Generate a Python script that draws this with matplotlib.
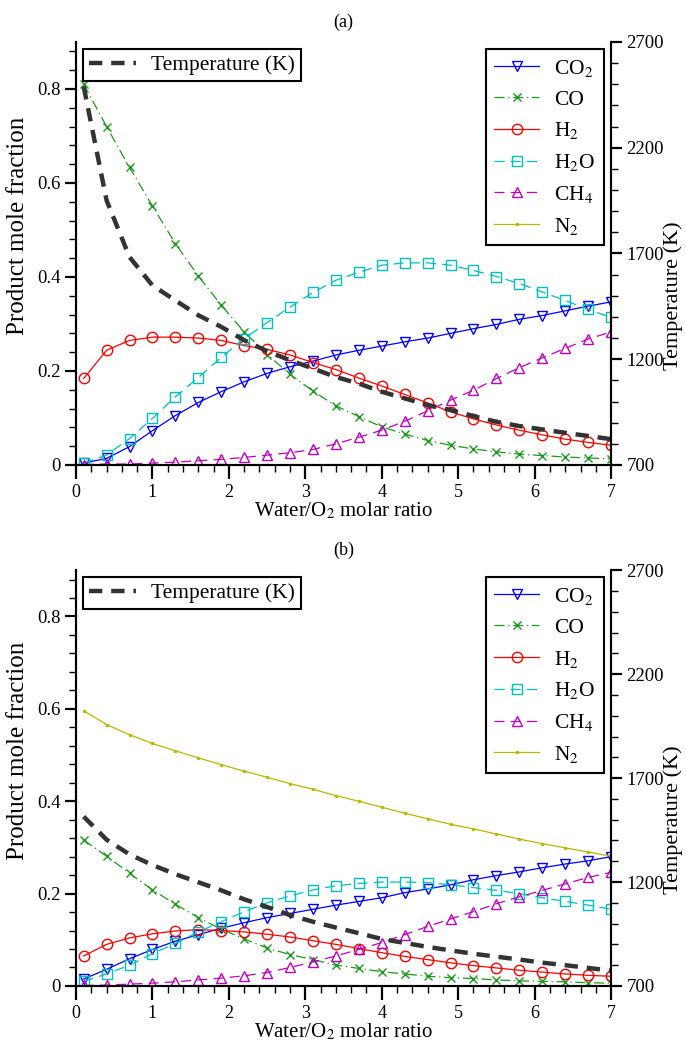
import matplotlib
matplotlib.use("Agg")
import matplotlib.pyplot as plt
from matplotlib.ticker import MultipleLocator

plt.rcParams['font.family'] = ['Liberation Serif', 'DejaVu Serif']
plt.rcParams['mathtext.fontset'] = 'stix'
plt.rcParams['font.size'] = 13

# Water/O2 molar ratio
ratio = [0.1, 0.4, 0.7, 1.0, 1.3, 1.6, 1.9, 2.2, 2.5, 2.8, 3.1, 3.4,
         3.7, 4.0, 4.3, 4.6, 4.9, 5.2, 5.5, 5.8, 6.1, 6.4, 6.7, 7.0]

# (a)
co2_a = [0.004, 0.014, 0.039, 0.073, 0.105, 0.133, 0.156, 0.177, 0.195, 0.209, 0.221, 0.234,
         0.244, 0.253, 0.262, 0.270, 0.280, 0.290, 0.299, 0.310, 0.318, 0.328, 0.338, 0.347]
co_a = [0.810, 0.720, 0.633, 0.551, 0.471, 0.402, 0.340, 0.283, 0.235, 0.193, 0.157, 0.126,
        0.103, 0.081, 0.066, 0.052, 0.042, 0.034, 0.028, 0.023, 0.020, 0.017, 0.015, 0.013]
h2_a = [0.184, 0.244, 0.265, 0.272, 0.272, 0.270, 0.265, 0.254, 0.246, 0.234, 0.218, 0.203,
        0.185, 0.168, 0.150, 0.132, 0.113, 0.098, 0.085, 0.074, 0.064, 0.055, 0.048, 0.042]
h2o_a = [0.004, 0.021, 0.056, 0.099, 0.145, 0.186, 0.229, 0.269, 0.303, 0.336, 0.367, 0.393,
         0.410, 0.425, 0.430, 0.430, 0.425, 0.414, 0.401, 0.386, 0.368, 0.350, 0.331, 0.314]
ch4_a = [0.001, 0.002, 0.002, 0.004, 0.006, 0.009, 0.012, 0.016, 0.021, 0.026, 0.033, 0.045,
         0.059, 0.074, 0.093, 0.115, 0.138, 0.159, 0.184, 0.207, 0.228, 0.248, 0.268, 0.283]
n2_a = [0.001] * 24
temp_a = [2490, 1951, 1683, 1549, 1478, 1408, 1353, 1290, 1238, 1195, 1156, 1116,
          1085, 1046, 1015, 983, 960, 931, 904, 884, 868, 852, 837, 822]

# (b)
co2_b = [0.015, 0.036, 0.059, 0.079, 0.097, 0.111, 0.125, 0.137, 0.148, 0.157, 0.166, 0.175,
         0.183, 0.191, 0.202, 0.210, 0.219, 0.230, 0.239, 0.247, 0.256, 0.264, 0.271, 0.280]
co_b = [0.316, 0.281, 0.244, 0.208, 0.177, 0.148, 0.123, 0.102, 0.082, 0.068, 0.057, 0.045,
        0.038, 0.031, 0.026, 0.021, 0.018, 0.016, 0.013, 0.011, 0.010, 0.009, 0.007, 0.006]
h2_b = [0.065, 0.090, 0.104, 0.113, 0.119, 0.122, 0.120, 0.117, 0.112, 0.106, 0.098, 0.090,
        0.081, 0.072, 0.064, 0.057, 0.050, 0.044, 0.039, 0.034, 0.030, 0.026, 0.023, 0.021]
h2o_b = [0.010, 0.026, 0.045, 0.070, 0.092, 0.117, 0.139, 0.161, 0.180, 0.195, 0.208, 0.217,
         0.222, 0.225, 0.225, 0.224, 0.219, 0.213, 0.207, 0.200, 0.191, 0.183, 0.175, 0.166]
ch4_b = [0.001, 0.002, 0.004, 0.006, 0.009, 0.013, 0.017, 0.022, 0.029, 0.040, 0.052, 0.065,
         0.079, 0.094, 0.111, 0.129, 0.145, 0.161, 0.178, 0.193, 0.207, 0.221, 0.235, 0.246]
n2_b = [0.596, 0.566, 0.544, 0.525, 0.509, 0.494, 0.479, 0.465, 0.452, 0.438, 0.426, 0.412,
        0.400, 0.387, 0.374, 0.362, 0.350, 0.340, 0.329, 0.318, 0.308, 0.299, 0.290, 0.281]
temp_b = [1515, 1404, 1333, 1282, 1238, 1199, 1160, 1117, 1080, 1041, 1009, 981,
          954, 926, 907, 888, 871, 855, 841, 827, 812, 800, 787, 773]


def draw_panel(rect, title, co2, co, h2, h2o, ch4, n2, temp):
    ax = fig.add_axes(rect)
    ax2 = ax.twinx()

    ms = 7.5
    ax.plot(ratio, co2, color='#0000ff', lw=0.9, marker='v', ms=ms, mfc='none', label='CO$_2$')
    ax.plot(ratio, co, color='#1a9a1a', lw=0.9, ls=(0, (8, 3, 1, 3)), marker='x', ms=6, label='CO')
    ax.plot(ratio, h2, color='#ff0000', lw=0.9, marker='o', ms=ms, mfc='none', label='H$_2$')
    ax.plot(ratio, h2o, color='#00bfbf', lw=0.9, ls=(0, (8, 5)), marker='s', ms=6.5, mfc='none', label='H$_2$O')
    ax.plot(ratio, ch4, color='#c000c0', lw=0.9, ls=(0, (8, 5)), marker='^', ms=ms, mfc='none', label='CH$_4$')
    ax.plot(ratio, n2, color='#b8b800', lw=0.9, marker='.', ms=3, label='N$_2$')

    ax2.plot(ratio, temp, color='#333333', lw=3.2, ls=(0, (3, 2)), label='Temperature (K)')

    ax.set_xlim(0, 7)
    ax.set_ylim(0, 0.9)
    ax2.set_ylim(700, 2700)
    ax.set_xticks([0, 1, 2, 3, 4, 5, 6, 7])
    ax.xaxis.set_minor_locator(MultipleLocator(0.2))
    ax.set_yticks([0, 0.2, 0.4, 0.6, 0.8])
    ax.set_yticklabels(['0', '0.2', '0.4', '0.6', '0.8'])
    ax.yaxis.set_minor_locator(MultipleLocator(0.04))
    ax2.set_yticks([700, 1200, 1700, 2200, 2700])
    ax2.yaxis.set_minor_locator(MultipleLocator(100))

    for a in (ax, ax2):
        a.spines['top'].set_visible(False)
        for s in a.spines.values():
            s.set_linewidth(1.5)
        a.tick_params(which='major', direction='out', length=8, width=1.6, pad=3, labelsize=13.5)
        a.tick_params(which='minor', direction='out', length=5, width=1.0)
    ax.tick_params(axis='x', which='major', length=10, pad=3.5, labelsize=13)

    ax.set_xlabel('Water/O$_2$ molar ratio', fontsize=15, labelpad=0)
    ax.set_ylabel('Product mole fraction', fontsize=18)
    ax.yaxis.set_label_coords(-0.088, 0.565)
    ax2.set_ylabel('Temperature (K)', fontsize=16)
    ax2.yaxis.set_label_coords(1.098, 0.40)
    ax.set_title(title, fontsize=13, pad=11)

    leg1 = ax2.legend(loc='upper left', bbox_to_anchor=(0.013, 0.983), fancybox=False,
                      edgecolor='black', framealpha=1, fontsize=15.5, handlelength=2.2,
                      borderpad=0.27, handletextpad=0.7, borderaxespad=0)
    leg1.get_frame().set_linewidth(1.5)
    leg2 = ax.legend(loc='upper right', bbox_to_anchor=(0.987, 0.983), fancybox=False,
                     edgecolor='black', framealpha=1, fontsize=15.5, handlelength=2.1,
                     borderpad=0.4, labelspacing=0.5, handletextpad=0.7, borderaxespad=0)
    leg2.get_frame().set_linewidth(1.5)
    return ax, ax2


fig = plt.figure(figsize=(6.86, 10.47), dpi=100)
draw_panel([0.1108, 0.5559, 0.780, 0.404], '(a)', co2_a, co_a, h2_a, h2o_a, ch4_a, n2_a, temp_a)
draw_panel([0.1108, 0.0583, 0.780, 0.397], '(b)', co2_b, co_b, h2_b, h2o_b, ch4_b, n2_b, temp_b)

fig.savefig('out.png', dpi=100)
